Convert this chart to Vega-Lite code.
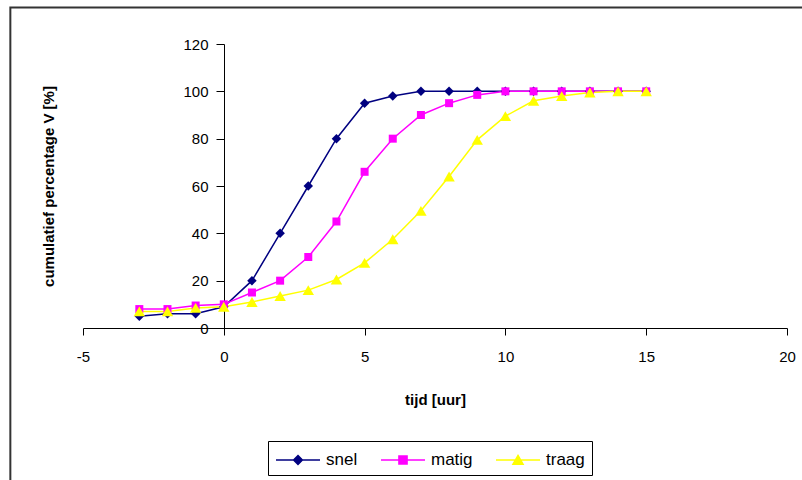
{
  "$schema": "https://vega.github.io/schema/vega-lite/v6.json",
  "width": 704,
  "height": 284,
  "autosize": {"type": "none"},
  "padding": {"left": 83, "top": 44, "right": 15, "bottom": 152},
  "background": "white",
  "config": {
    "font": "Liberation Sans",
    "view": {"stroke": null},
    "axis": {
      "grid": false,
      "domainColor": "#000000",
      "domainWidth": 1,
      "tickColor": "#000000",
      "tickWidth": 1,
      "labelFont": "Liberation Sans",
      "labelFontSize": 15,
      "labelColor": "#000000",
      "titleFont": "Liberation Sans",
      "titleFontSize": 15,
      "titleFontWeight": "bold",
      "titleColor": "#000000"
    }
  },
  "layer": [
    {
      "data": {"values": [{"left": -7.58, "right": 30, "top": 135.4, "bottom": -100}]},
      "mark": {"type": "rect", "fill": null, "stroke": "#333333", "strokeWidth": 2},
      "encoding": {
        "x": {"field": "left", "type": "quantitative", "scale": {"domain": [-5, 20], "nice": false}, "title": "tijd [uur]"},
        "x2": {"field": "right"},
        "y": {"field": "top", "type": "quantitative", "scale": {"domain": [0, 120], "nice": false}, "title": "cumulatief percentage V [%]"},
        "y2": {"field": "bottom"}
      }
    },
    {
      "data": {
        "values": [
          {"serie": "snel", "tijd": -3, "pct": 5},
          {"serie": "snel", "tijd": -2, "pct": 6},
          {"serie": "snel", "tijd": -1, "pct": 6},
          {"serie": "snel", "tijd": 0, "pct": 9},
          {"serie": "snel", "tijd": 1, "pct": 20},
          {"serie": "snel", "tijd": 2, "pct": 40},
          {"serie": "snel", "tijd": 3, "pct": 60},
          {"serie": "snel", "tijd": 4, "pct": 80},
          {"serie": "snel", "tijd": 5, "pct": 95},
          {"serie": "snel", "tijd": 6, "pct": 98},
          {"serie": "snel", "tijd": 7, "pct": 100},
          {"serie": "snel", "tijd": 8, "pct": 100},
          {"serie": "snel", "tijd": 9, "pct": 100},
          {"serie": "snel", "tijd": 10, "pct": 100},
          {"serie": "snel", "tijd": 11, "pct": 100},
          {"serie": "snel", "tijd": 12, "pct": 100},
          {"serie": "snel", "tijd": 13, "pct": 100},
          {"serie": "snel", "tijd": 14, "pct": 100},
          {"serie": "snel", "tijd": 15, "pct": 100},
          {"serie": "matig", "tijd": -3, "pct": 8},
          {"serie": "matig", "tijd": -2, "pct": 8},
          {"serie": "matig", "tijd": -1, "pct": 9.5},
          {"serie": "matig", "tijd": 0, "pct": 10},
          {"serie": "matig", "tijd": 1, "pct": 15},
          {"serie": "matig", "tijd": 2, "pct": 20},
          {"serie": "matig", "tijd": 3, "pct": 30},
          {"serie": "matig", "tijd": 4, "pct": 45},
          {"serie": "matig", "tijd": 5, "pct": 66},
          {"serie": "matig", "tijd": 6, "pct": 80},
          {"serie": "matig", "tijd": 7, "pct": 90},
          {"serie": "matig", "tijd": 8, "pct": 95},
          {"serie": "matig", "tijd": 9, "pct": 98.5},
          {"serie": "matig", "tijd": 10, "pct": 100},
          {"serie": "matig", "tijd": 11, "pct": 100},
          {"serie": "matig", "tijd": 12, "pct": 100},
          {"serie": "matig", "tijd": 13, "pct": 100},
          {"serie": "matig", "tijd": 14, "pct": 100},
          {"serie": "matig", "tijd": 15, "pct": 100},
          {"serie": "traag", "tijd": -3, "pct": 7},
          {"serie": "traag", "tijd": -2, "pct": 7},
          {"serie": "traag", "tijd": -1, "pct": 8.5},
          {"serie": "traag", "tijd": 0, "pct": 9},
          {"serie": "traag", "tijd": 1, "pct": 11},
          {"serie": "traag", "tijd": 2, "pct": 13.5},
          {"serie": "traag", "tijd": 3, "pct": 16},
          {"serie": "traag", "tijd": 4, "pct": 20.5},
          {"serie": "traag", "tijd": 5, "pct": 27.5},
          {"serie": "traag", "tijd": 6, "pct": 37.5},
          {"serie": "traag", "tijd": 7, "pct": 49.5},
          {"serie": "traag", "tijd": 8, "pct": 64},
          {"serie": "traag", "tijd": 9, "pct": 79.5},
          {"serie": "traag", "tijd": 10, "pct": 89.5},
          {"serie": "traag", "tijd": 11, "pct": 96},
          {"serie": "traag", "tijd": 12, "pct": 98},
          {"serie": "traag", "tijd": 13, "pct": 99.5},
          {"serie": "traag", "tijd": 14, "pct": 100},
          {"serie": "traag", "tijd": 15, "pct": 100}
        ]
      },
      "encoding": {
        "x": {
          "field": "tijd", "type": "quantitative",
          "scale": {"domain": [-5, 20], "nice": false},
          "title": "tijd [uur]",
          "axis": {"values": [-5, 0, 5, 10, 15, 20], "tickSize": 7, "labelPadding": 14, "titlePadding": 28, "labelFlush": false, "labelExpr": "toString(datum.value)"}
        },
        "y": {
          "field": "pct", "type": "quantitative",
          "scale": {"domain": [0, 120], "nice": false},
          "title": "cumulatief percentage V [%]",
          "axis": {"values": [0, 20, 40, 60, 80, 100, 120], "offset": -141, "tickSize": 8, "labelPadding": 8, "titlePadding": 126, "labelFlush": false}
        },
        "color": {
          "field": "serie", "type": "nominal",
          "scale": {"domain": ["snel", "matig", "traag"], "range": ["#000080", "#FF00FF", "#FFFF00"]},
          "legend": {
            "title": null,
            "orient": "none",
            "legendX": 185,
            "legendY": 397,
            "direction": "horizontal",
            "padding": 7,
            "strokeColor": "#000000",
            "labelFont": "Liberation Sans",
            "labelFontSize": 17,
            "labelColor": "#000000",
            "symbolSize": 484,
            "labelOffset": 27,
            "columnPadding": 20,
            "encode": {
              "symbols": {
                "update": {
                  "shape": {"signal": "datum.value === 'snel' ? 'M-1,0H3M1,-0.4L1.4,0L1,0.4L0.6,0Z' : datum.value === 'matig' ? 'M-1,0H3M0.63,-0.37H1.37V0.37H0.63Z' : 'M-1,0H3M1,-0.42L1.46,0.38H0.54Z'"},
                  "fill": {"signal": "scale('color', datum.value)"},
                  "stroke": {"signal": "scale('color', datum.value)"},
                  "strokeWidth": {"value": 1.5},
                  "opacity": {"value": 1},
                  "fillOpacity": {"value": 1}
                }
              }
            }
          }
        }
      },
      "layer": [
        {"mark": {"type": "line", "strokeWidth": 1.5}},
        {
          "mark": {"type": "point", "filled": true, "opacity": 1},
          "encoding": {
            "shape": {
              "condition": [
                {"test": "datum.serie === 'snel'", "value": "diamond"},
                {"test": "datum.serie === 'matig'", "value": "square"}
              ],
              "value": "triangle-up"
            },
            "size": {
              "condition": [
                {"test": "datum.serie === 'snel'", "value": 90},
                {"test": "datum.serie === 'matig'", "value": 64}
              ],
              "value": 130
            }
          }
        }
      ]
    }
  ]
}
